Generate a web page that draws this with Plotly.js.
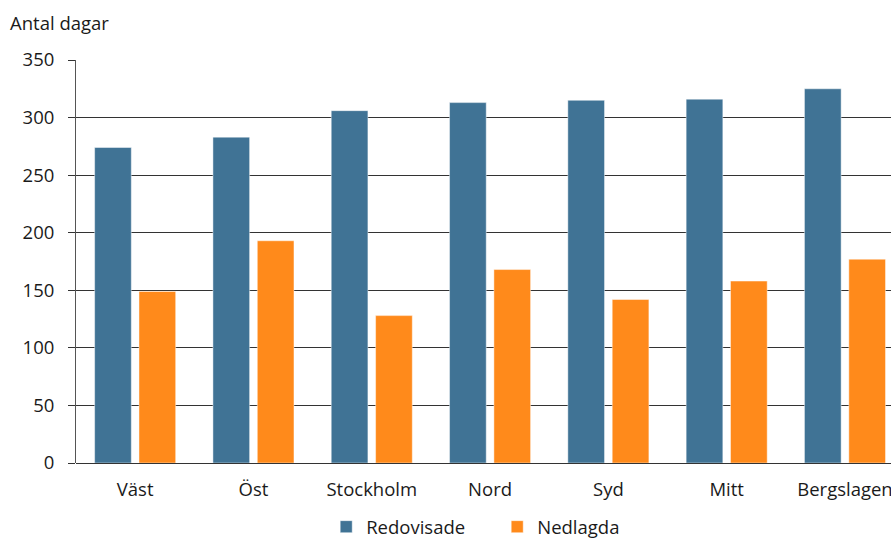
<!DOCTYPE html>
<html>
<head>
<meta charset="utf-8">
<script src="https://cdn.plot.ly/plotly-3.0.1.min.js"></script>
<style>html,body{margin:0;padding:0;background:#fff;}#chart{width:891px;height:539px;}</style>
</head>
<body>
<div id="chart"></div>
<script>
var categories = ["Väst", "Öst", "Stockholm", "Nord", "Syd", "Mitt", "Bergslagen"];
var redovisade = [274, 283, 306, 313, 315, 316, 325];
var nedlagda = [149, 193, 128, 168, 142, 158, 177];
var yTicks = [0, 50, 100, 150, 200, 250, 300, 350];
var seriesNames = ["Redovisade", "Nedlagda"];
var yTitle = "Antal dagar";

var FONT = "Open Sans, sans-serif";
var traces = [
  {type: "bar", name: seriesNames[0], x: categories, y: redovisade,
   marker: {color: "#407395", line: {color: "rgba(255,255,255,0.45)", width: 1}}, cliponaxis: true},
  {type: "bar", name: seriesNames[1], x: categories, y: nedlagda,
   marker: {color: "#ff8a1b", line: {color: "rgba(255,255,255,0.45)", width: 1}}, cliponaxis: true}
];
var layout = {
  width: 891, height: 539,
  margin: {l: 76, r: 0, t: 60, b: 76, pad: 0, autoexpand: false},
  paper_bgcolor: "#fff", plot_bgcolor: "#fff",
  font: {family: FONT, size: 18.5, color: "#1a1a1a"},
  barmode: "group", bargap: 0.25, bargroupgap: 0.173,
  showlegend: true,
  legend: {orientation: "h", x: 0.307, xanchor: "left", y: -0.112, yanchor: "top",
           font: {family: FONT, size: 18.5, color: "#1a1a1a"}, entrywidth: 126, traceorder: "normal"},
  xaxis: {type: "category", range: [-0.5, 6.389], showgrid: false, zeroline: false,
          showline: false, ticks: "", ticklabelstandoff: 13, fixedrange: true},
  yaxis: {range: [0, 350], tickvals: yTicks, ticktext: yTicks.map(String),
          showgrid: true, gridcolor: "#333", gridwidth: 1,
          zeroline: true, zerolinecolor: "#333", zerolinewidth: 1,
          showline: true, linecolor: "#555", linewidth: 1,
          ticks: "outside", ticklen: 7, tickcolor: "#333", tickwidth: 1,
          ticklabelstandoff: 10, fixedrange: true},
  annotations: [{text: yTitle, xref: "paper", yref: "paper", x: -76/815, xanchor: "left",
                 y: 1 + 38/403, yanchor: "middle", showarrow: false, xshift: 8,
                 font: {family: FONT, size: 18.5, color: "#1a1a1a"}}]
};
Plotly.newPlot("chart", traces, layout, {staticPlot: true, displayModeBar: false});
</script>
</body>
</html>
